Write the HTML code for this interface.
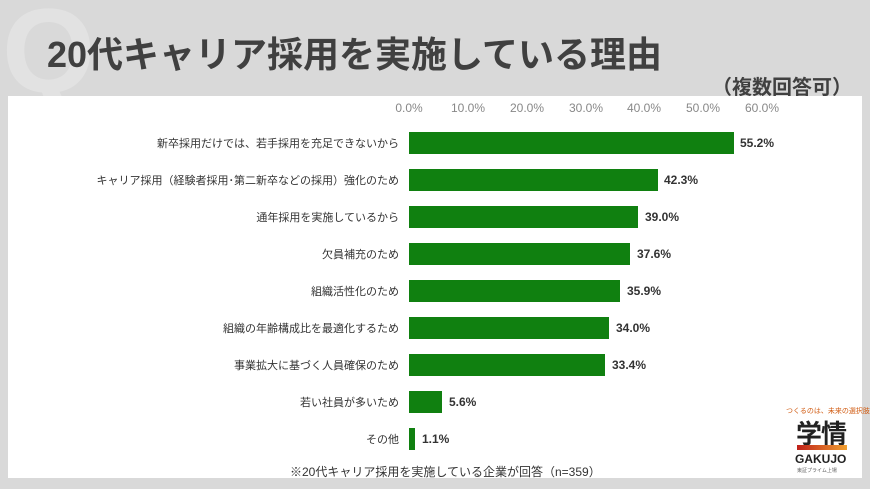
<!DOCTYPE html>
<html><head><meta charset="utf-8"><style>
body{margin:0;width:870px;height:489px;background:#d9d9d9;position:relative;overflow:hidden;font-family:"Liberation Sans","Noto Sans CJK JP",sans-serif;}
.q{position:absolute;left:2px;top:-18px;font-size:120px;font-weight:bold;color:#e2e2e2;}
.title{position:absolute;left:47px;top:26px;font-size:36px;font-weight:bold;color:#404040;letter-spacing:0px;white-space:nowrap;}
.sub{position:absolute;right:18px;top:71px;font-size:20px;font-weight:bold;color:#404040;}
.panel{position:absolute;left:8px;top:96px;width:854px;height:382px;background:#fff;}
.tick{position:absolute;top:101px;font-size:12px;color:#888;transform:translateX(-50%);}
.lab{position:absolute;right:471px;font-size:11px;color:#333;transform:translateY(-50%);white-space:nowrap;}
.bar{position:absolute;left:409px;height:22px;background:#108010;transform:translateY(-50%);}
.val{position:absolute;font-size:12px;font-weight:bold;color:#333;transform:translateY(-50%);}
.foot{position:absolute;left:290px;top:463px;font-size:12px;color:#333;}
</style></head><body>
<div class="q">Q</div>
<div class="title">20代キャリア採用を実施している理由</div>
<div class="sub">（複数回答可）</div>
<div class="panel"></div>
<div class="tick" style="left:409px">0.0%</div>
<div class="tick" style="left:468px">10.0%</div>
<div class="tick" style="left:527px">20.0%</div>
<div class="tick" style="left:586px">30.0%</div>
<div class="tick" style="left:644px">40.0%</div>
<div class="tick" style="left:703px">50.0%</div>
<div class="tick" style="left:762px">60.0%</div>

<div class="lab" style="top:143px">新卒採用だけでは、若手採用を充足できないから</div>
<div class="bar" style="top:143px;width:325px"></div><div class="val" style="top:143px;left:740px">55.2%</div>
<div class="lab" style="top:180px">キャリア採用（経験者採用･第二新卒などの採用）強化のため</div>
<div class="bar" style="top:180px;width:249px"></div><div class="val" style="top:180px;left:664px">42.3%</div>
<div class="lab" style="top:217px">通年採用を実施しているから</div>
<div class="bar" style="top:217px;width:229px"></div><div class="val" style="top:217px;left:645px">39.0%</div>
<div class="lab" style="top:254px">欠員補充のため</div>
<div class="bar" style="top:254px;width:221px"></div><div class="val" style="top:254px;left:637px">37.6%</div>
<div class="lab" style="top:291px">組織活性化のため</div>
<div class="bar" style="top:291px;width:211px"></div><div class="val" style="top:291px;left:627px">35.9%</div>
<div class="lab" style="top:328px">組織の年齢構成比を最適化するため</div>
<div class="bar" style="top:328px;width:200px"></div><div class="val" style="top:328px;left:616px">34.0%</div>
<div class="lab" style="top:365px">事業拡大に基づく人員確保のため</div>
<div class="bar" style="top:365px;width:196px"></div><div class="val" style="top:365px;left:612px">33.4%</div>
<div class="lab" style="top:402px">若い社員が多いため</div>
<div class="bar" style="top:402px;width:33px"></div><div class="val" style="top:402px;left:449px">5.6%</div>
<div class="lab" style="top:439px">その他</div>
<div class="bar" style="top:439px;width:6px"></div><div class="val" style="top:439px;left:422px">1.1%</div>

<div class="foot">※20代キャリア採用を実施している企業が回答（n=359）</div>

<div style="position:absolute;left:786px;top:406px;font-size:7px;color:#d05a10;white-space:nowrap">つくるのは、未来の選択肢</div>
<div style="position:absolute;left:796px;top:414px;font-size:26px;color:#222;font-weight:bold;letter-spacing:-1px">学情</div>
<div style="position:absolute;left:797px;top:445px;width:50px;height:5px;background:linear-gradient(90deg,#c0201a,#f0a030)"></div>
<div style="position:absolute;left:795px;top:452px;font-size:12px;font-weight:bold;color:#222">GAKUJO</div>
<div style="position:absolute;left:797px;top:467px;font-size:5px;color:#666">東証プライム上場</div>
</body></html>
